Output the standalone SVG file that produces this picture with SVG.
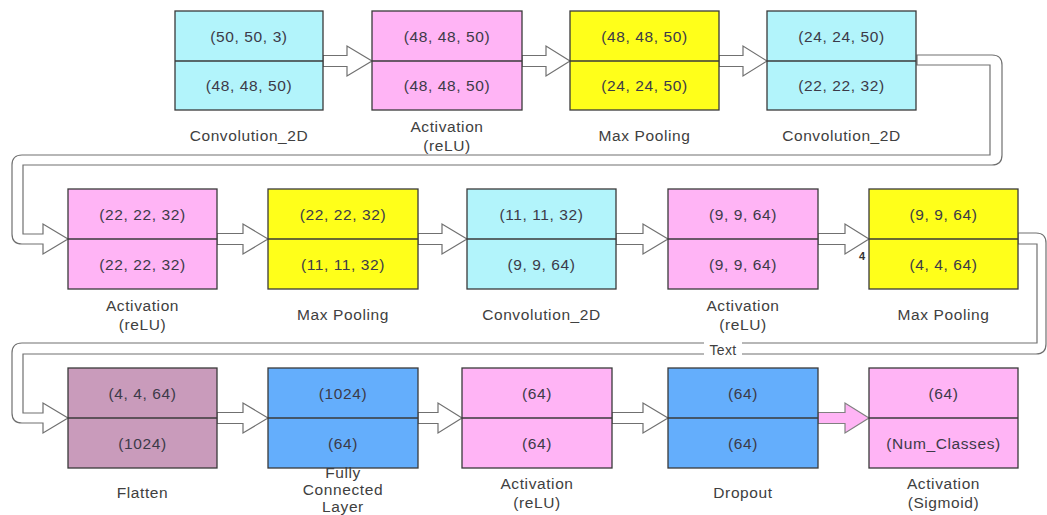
<svg xmlns="http://www.w3.org/2000/svg" width="1047" height="515" viewBox="0 0 1047 515">
<style>
.box{stroke:#3a3a3a;stroke-width:1.3}
.cy{fill:#b2f4fb}.pk{fill:#ffb4f5}.ye{fill:#ffff1a}.fl{fill:#c99bbb}.bl{fill:#64aefc}
.dv{stroke:#3a3a3a;stroke-width:1.3;fill:none}
.bt{font-family:"Liberation Sans",Arial,sans-serif;font-size:15.5px;letter-spacing:0.6px;fill:#3c3a48;text-anchor:middle}
.lb{font-family:"Liberation Sans",Arial,sans-serif;font-size:15.5px;letter-spacing:0.6px;fill:#404040;text-anchor:middle}
.ar{fill:#fff;stroke:#707070;stroke-width:1.2}
.ap{fill:#ffb4f5;stroke:#808080;stroke-width:1.2}
</style>
<rect width="1047" height="515" fill="#fff"/>
<g id="connectors">
<path class="ar" d="M917,55 H992 Q1002,55 1002,65 V155 Q1002,165 992,165 H23 V234 H43 V224 L68,239 L43,254 V244 H22 Q12,244 12,234 V165 Q12,155 22,155 H990 V65 H917 Z"/>
<path class="ar" d="M1018,233 H1036 Q1046,233 1046,243 V344 Q1046,354 1036,354 H23 V413 H43 V403 L68,418 L43,433 V423 H22 Q12,423 12,413 V353 Q12,343 22,343 H1037 V244 H1018 Z"/>
<rect x="704" y="342" width="38" height="13" fill="#fff"/>
<text x="723" y="355" class="lb" style="font-size:14px;letter-spacing:0.3px">Text</text>
<path class="ar" d="M323,55.5 H347 V46 L372,61 L347,76 V66.5 H323 Z"/>
<path class="ar" d="M522,55.5 H546 V46 L570,61 L546,76 V66.5 H522 Z"/>
<path class="ar" d="M719,55.5 H743 V46 L767,61 L743,76 V66.5 H719 Z"/>
<path class="ar" d="M217,233.5 H243 V224 L268,239 L243,254 V244.5 H217 Z"/>
<path class="ar" d="M418,233.5 H442 V224 L467,239 L442,254 V244.5 H418 Z"/>
<path class="ar" d="M616,233.5 H643 V224 L668,239 L643,254 V244.5 H616 Z"/>
<path class="ar" d="M818,233.5 H845 V224 L869,239 L845,254 V244.5 H818 Z"/>
<text x="862" y="260" style="font-family:'Liberation Sans',Arial,sans-serif;font-size:11px;font-weight:bold;fill:#333;text-anchor:middle">4</text>
<path class="ar" d="M217,412.5 H243 V403 L268,418 L243,433 V423.5 H217 Z"/>
<path class="ar" d="M418,412.5 H438 V403 L462,418 L438,433 V423.5 H418 Z"/>
<path class="ar" d="M612,412.5 H643 V403 L668,418 L643,433 V423.5 H612 Z"/>
<path class="ap" d="M818,412.5 H845 V403 L869,418 L845,433 V423.5 H818 Z"/>
</g>
<g id="n1"><rect class="box cy" x="175" y="11" width="148" height="99"/><line class="dv" x1="175" y1="61" x2="323" y2="61"/><text class="bt" x="249" y="42">(50, 50, 3)</text><text class="bt" x="249" y="91">(48, 48, 50)</text><text class="lb" x="249" y="141">Convolution_2D</text></g>
<g id="n2"><rect class="box pk" x="372" y="11" width="150" height="99"/><line class="dv" x1="372" y1="61" x2="522" y2="61"/><text class="bt" x="447" y="42">(48, 48, 50)</text><text class="bt" x="447" y="91">(48, 48, 50)</text><text class="lb" x="447" y="132">Activation</text><text class="lb" x="447" y="151">(reLU)</text></g>
<g id="n3"><rect class="box ye" x="570" y="11" width="149" height="99"/><line class="dv" x1="570" y1="61" x2="719" y2="61"/><text class="bt" x="644.5" y="42">(48, 48, 50)</text><text class="bt" x="644.5" y="91">(24, 24, 50)</text><text class="lb" x="644.5" y="141">Max Pooling</text></g>
<g id="n4"><rect class="box cy" x="767" y="11" width="149" height="99"/><line class="dv" x1="767" y1="61" x2="916" y2="61"/><text class="bt" x="841.5" y="42">(24, 24, 50)</text><text class="bt" x="841.5" y="91">(22, 22, 32)</text><text class="lb" x="841.5" y="141">Convolution_2D</text></g>
<g id="n5"><rect class="box pk" x="68" y="189" width="149" height="100"/><line class="dv" x1="68" y1="239" x2="217" y2="239"/><text class="bt" x="142.5" y="220">(22, 22, 32)</text><text class="bt" x="142.5" y="270">(22, 22, 32)</text><text class="lb" x="142.5" y="311">Activation</text><text class="lb" x="142.5" y="330">(reLU)</text></g>
<g id="n6"><rect class="box ye" x="268" y="189" width="150" height="100"/><line class="dv" x1="268" y1="239" x2="418" y2="239"/><text class="bt" x="343" y="220">(22, 22, 32)</text><text class="bt" x="343" y="270">(11, 11, 32)</text><text class="lb" x="343" y="320">Max Pooling</text></g>
<g id="n7"><rect class="box cy" x="467" y="189" width="149" height="100"/><line class="dv" x1="467" y1="239" x2="616" y2="239"/><text class="bt" x="541.5" y="220">(11, 11, 32)</text><text class="bt" x="541.5" y="270">(9, 9, 64)</text><text class="lb" x="541.5" y="320">Convolution_2D</text></g>
<g id="n8"><rect class="box pk" x="668" y="189" width="150" height="100"/><line class="dv" x1="668" y1="239" x2="818" y2="239"/><text class="bt" x="743" y="220">(9, 9, 64)</text><text class="bt" x="743" y="270">(9, 9, 64)</text><text class="lb" x="743" y="311">Activation</text><text class="lb" x="743" y="330">(reLU)</text></g>
<g id="n9"><rect class="box ye" x="869" y="189" width="149" height="100"/><line class="dv" x1="869" y1="239" x2="1018" y2="239"/><text class="bt" x="943.5" y="220">(9, 9, 64)</text><text class="bt" x="943.5" y="270">(4,  4,  64)</text><text class="lb" x="943.5" y="320">Max Pooling</text></g>
<g id="n10"><rect class="box fl" x="68" y="368" width="149" height="100"/><line class="dv" x1="68" y1="418" x2="217" y2="418"/><text class="bt" x="142.5" y="399">(4, 4, 64)</text><text class="bt" x="142.5" y="449">(1024)</text><text class="lb" x="142.5" y="498">Flatten</text></g>
<g id="n11"><rect class="box bl" x="268" y="368" width="150" height="100"/><line class="dv" x1="268" y1="418" x2="418" y2="418"/><text class="bt" x="343" y="399">(1024)</text><text class="bt" x="343" y="449">(64)</text><text class="lb" x="343" y="478">Fully</text><text class="lb" x="343" y="495">Connected</text><text class="lb" x="343" y="512">Layer</text></g>
<g id="n12"><rect class="box pk" x="462" y="368" width="150" height="100"/><line class="dv" x1="462" y1="418" x2="612" y2="418"/><text class="bt" x="537" y="399">(64)</text><text class="bt" x="537" y="449">(64)</text><text class="lb" x="537" y="489">Activation</text><text class="lb" x="537" y="508">(reLU)</text></g>
<g id="n13"><rect class="box bl" x="668" y="368" width="150" height="100"/><line class="dv" x1="668" y1="418" x2="818" y2="418"/><text class="bt" x="743" y="399">(64)</text><text class="bt" x="743" y="449">(64)</text><text class="lb" x="743" y="498">Dropout</text></g>
<g id="n14"><rect class="box pk" x="869" y="368" width="149" height="100"/><line class="dv" x1="869" y1="418" x2="1018" y2="418"/><text class="bt" x="943.5" y="399">(64)</text><text class="bt" x="943.5" y="449">(Num_Classes)</text><text class="lb" x="943.5" y="489">Activation</text><text class="lb" x="943.5" y="508">(Sigmoid)</text></g>
</svg>
